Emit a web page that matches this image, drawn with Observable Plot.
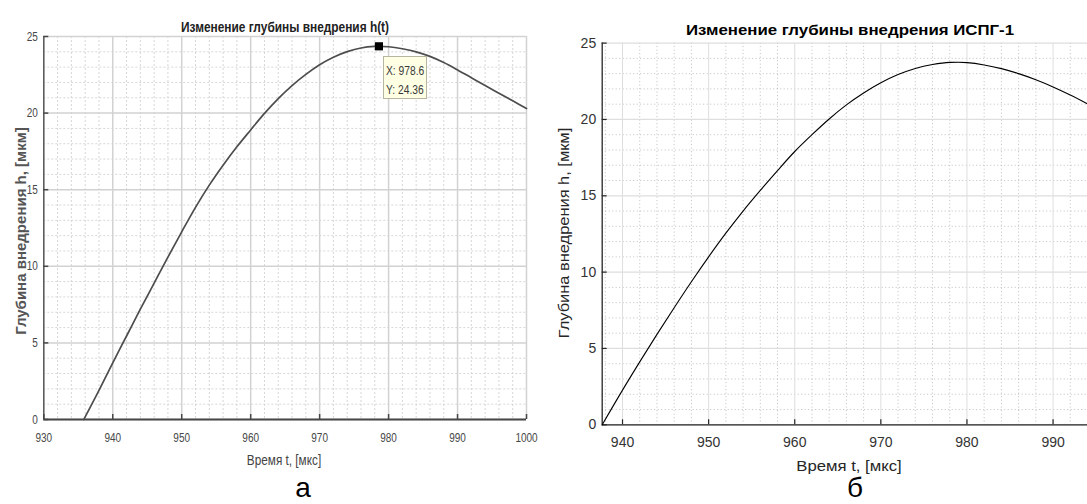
<!DOCTYPE html>
<html><head><meta charset="utf-8">
<script src="https://cdn.jsdelivr.net/npm/d3@7"></script>
<script src="https://cdn.jsdelivr.net/npm/@observablehq/plot@0.6"></script>
<style>
body{margin:0;background:#fff;}
#wrap{position:relative;width:1087px;height:504px;overflow:hidden;background:#fff;font-family:"Liberation Sans",Arial,sans-serif;}
</style></head><body><div id="wrap"></div>
<script>
// ---------- data ----------
const tA = [935.8, 938, 940, 942, 944, 946, 948, 950, 952, 954, 956, 958, 960, 962, 964, 966, 968, 970, 972, 974, 976, 978, 978.6, 980, 982, 984, 986, 988, 990, 992, 994, 996, 998, 1000];
const hA = [0, 1.9, 3.7, 5.45, 7.2, 8.9, 10.6, 12.25, 13.85, 15.3, 16.6, 17.8, 18.9, 19.98, 20.95, 21.8, 22.53, 23.16, 23.65, 24.01, 24.25, 24.35, 24.36, 24.33, 24.2, 24.0, 23.7, 23.3, 22.82, 22.31, 21.8, 21.3, 20.8, 20.3];
const tB = [937.64, 940, 942, 944, 946, 948, 950, 952, 954, 956, 958, 960, 962, 964, 966, 968, 970, 972, 974, 976, 978, 979, 980, 982, 984, 986, 988, 990, 992, 994];
const hB = [0, 2.27, 4.12, 5.92, 7.67, 9.37, 11.0, 12.55, 14.0, 15.35, 16.65, 17.9, 19.0, 20.03, 20.95, 21.73, 22.4, 22.94, 23.34, 23.6, 23.74, 23.75, 23.72, 23.57, 23.33, 23.0, 22.6, 22.13, 21.6, 21.02];
const tipT = 978.6, tipH = 24.36;
const tipLines = ["X: 978.6", "Y: 24.36"];
const domainA = [930, 1000];
const domainB = [937.64, 994];
const yDomain = [0, 25];
const xTicksA = [930, 940, 950, 960, 970, 980, 990, 1000];
const xTicksB = [940, 950, 960, 970, 980, 990];
const yTicks = [0, 5, 10, 15, 20, 25];
const titleA = "Изменение глубины внедрения h(t)";
const titleB = "Изменение глубины внедрения ИСПГ-1";
const xLabel = "Время t, [мкс]";
const yLabel = "Глубина внедрения h, [мкм]";
const panelLabels = ["а", "б"];

const FONT = '"Liberation Sans", Arial, sans-serif';
const wrap = document.getElementById("wrap");
const dataA = tA.map((t, i) => ({t, h: hA[i]}));
const dataB = tB.map((t, i) => ({t, h: hB[i]}));
const minorY = d3.range(0, 25.001, 1).filter(v => v % 5 !== 0);
const minorXA = d3.range(930, 1000.001, 2).filter(v => v % 10 !== 0);
const minorXB = d3.range(938, 994.001, 2).filter(v => v % 10 !== 0);

// ---------- panel а ----------
const axA = "#474747";
const plotA = Plot.plot({
  width: 540, height: 504,
  marginLeft: 43.3, marginRight: 14, marginTop: 36, marginBottom: 85,
  x: {domain: domainA},
  y: {domain: yDomain},
  style: {fontFamily: FONT, color: axA, background: "transparent", overflow: "visible"},
  marks: [
    Plot.ruleX(minorXA, {stroke: "#d6d6d6", strokeWidth: 1, strokeDasharray: "2,2"}),
    Plot.ruleY(minorY, {stroke: "#d6d6d6", strokeWidth: 1, strokeDasharray: "2,2"}),
    Plot.ruleX(xTicksA, {stroke: "#d2d2d2", strokeWidth: 1.5}),
    Plot.ruleY(yTicks, {stroke: "#d2d2d2", strokeWidth: 1.5}),
    Plot.ruleX([domainA[0]], {stroke: axA, strokeWidth: 1.3}),
    Plot.ruleY([0], {stroke: axA, strokeWidth: 1.8}),
    Plot.ruleX(xTicksA, {y1: 0, y2: 0, insetBottom: 5, stroke: axA, strokeWidth: 1.5}),
    Plot.ruleY(yTicks, {x1: domainA[0], x2: domainA[0], insetRight: -5, stroke: axA, strokeWidth: 1.5}),
    Plot.line(dataA, {x: "t", y: "h", stroke: "#4d4d4d", strokeWidth: 1.7, curve: "monotone-x"}),
    Plot.dot([{t: tipT, h: tipH}], {x: "t", y: "h", symbol: "square", r: 4.6, fill: "#000", stroke: "none"}),
    Plot.axisX({ticks: xTicksA, tickSize: 0, tickPadding: 13.5, fontSize: 12.5, tickFormat: d => String(d), label: null}),
    Plot.axisY({ticks: yTicks, tickSize: 0, tickPadding: 6, fontSize: 12.5, tickFormat: d => String(d), label: null})
  ]
});
plotA.style.position = "absolute"; plotA.style.left = "0px"; plotA.style.top = "0px";
wrap.appendChild(plotA);
plotA.querySelectorAll("text").forEach(t => {
  const L = t.getComputedTextLength();
  t.setAttribute("textLength", L * 0.8);
  t.setAttribute("lengthAdjust", "spacingAndGlyphs");
});

// data tip box
let sxA, syA;
try { sxA = plotA.scale("x"); syA = plotA.scale("y"); } catch (e) {}
const fx = sxA && sxA.apply ? v => sxA.apply(v) : d3.scaleLinear(domainA, [43.3, 526]);
const fy = syA && syA.apply ? v => syA.apply(v) : d3.scaleLinear(yDomain, [419, 36]);
const tip = document.createElement("div");
Object.assign(tip.style, {position: "absolute", left: (fx(tipT) + 5) + "px", top: (fy(tipH) + 10) + "px",
  width: "44px", height: "43px", boxSizing: "border-box", background: "#ffffe4", border: "1px solid #b5b5a0",
  fontFamily: FONT, fontSize: "13.5px", color: "#3a3a3a", lineHeight: "19px", paddingTop: "4px", paddingLeft: "2px"});
tipLines.forEach(s => {
  const d = document.createElement("div");
  d.textContent = s;
  Object.assign(d.style, {whiteSpace: "nowrap", transform: "scaleX(0.76)", transformOrigin: "left center"});
  tip.appendChild(d);
});
wrap.appendChild(tip);

// ---------- panel б ----------
const axB = "#262626";
const plotB = Plot.plot({
  width: 547, height: 504,
  marginLeft: 61.7, marginRight: 0, marginTop: 42.6, marginBottom: 79.7,
  x: {domain: domainB},
  y: {domain: yDomain},
  style: {fontFamily: FONT, color: "#333", background: "transparent", overflow: "visible"},
  marks: [
    Plot.ruleX(minorXB, {stroke: "#b0b0b0", strokeWidth: 0.8, strokeDasharray: "1,2.5"}),
    Plot.ruleY(minorY, {stroke: "#b0b0b0", strokeWidth: 0.8, strokeDasharray: "1,2.5"}),
    Plot.ruleX(xTicksB, {stroke: "#dedede", strokeWidth: 1}),
    Plot.ruleY(yTicks, {stroke: "#dedede", strokeWidth: 1.2}),
    Plot.ruleX([domainB[0]], {stroke: axB, strokeWidth: 1.3}),
    Plot.ruleY([0], {stroke: axB, strokeWidth: 1.3}),
    Plot.ruleX(xTicksB, {y1: 0, y2: 0, insetBottom: 5, stroke: axB, strokeWidth: 1.2}),
    Plot.ruleY(yTicks, {x1: domainB[0], x2: domainB[0], insetRight: -5, stroke: axB, strokeWidth: 1.2}),
    Plot.line(dataB, {x: "t", y: "h", stroke: "#000", strokeWidth: 1.1, curve: "monotone-x"}),
    Plot.axisX({ticks: xTicksB, tickSize: 0, tickPadding: 12.7, fontSize: 14, tickFormat: d => String(d), label: null}),
    Plot.axisY({ticks: yTicks, tickSize: 0, tickPadding: 6, fontSize: 14, tickFormat: d => String(d), label: null})
  ]
});
plotB.style.position = "absolute"; plotB.style.left = "540px"; plotB.style.top = "0px";
wrap.appendChild(plotB);

// ---------- HTML texts ----------
function label(text, cx, cy, o) {
  const d = document.createElement("div");
  d.textContent = text;
  Object.assign(d.style, {position: "absolute", left: cx + "px", top: cy + "px", whiteSpace: "nowrap", lineHeight: o.lh || "1",
    fontFamily: FONT, fontSize: o.size + "px", fontWeight: o.weight || "normal", color: o.color || "#000"});
  wrap.appendChild(d);
  const w = d.offsetWidth;
  const s = o.target ? o.target / w : 1;
  d.style.transform = "translate(-50%,-50%)" + (o.rotate ? " rotate(-90deg)" : "") + " scaleX(" + s + ")";
}
label(titleA, 284.6, 27, {size: 14, weight: "bold", color: "#222", target: 208});
label(yLabel, 21, 231, {size: 14, weight: "bold", color: "#555", target: 208, rotate: true});
label(xLabel, 284, 460, {size: 14, color: "#444", target: 74});
label(panelLabels[0], 303, 488, {size: 28, color: "#000", lh: "0.7"});
label(titleB, 850, 30, {size: 14, weight: "bold", color: "#000", target: 328});
label(yLabel, 564, 232.5, {size: 14, color: "#262626", target: 211, rotate: true});
label(xLabel, 849, 466, {size: 14, color: "#262626", target: 105});
label(panelLabels[1], 855, 488, {size: 28, color: "#000", lh: "0.8"});
</script></body></html>
